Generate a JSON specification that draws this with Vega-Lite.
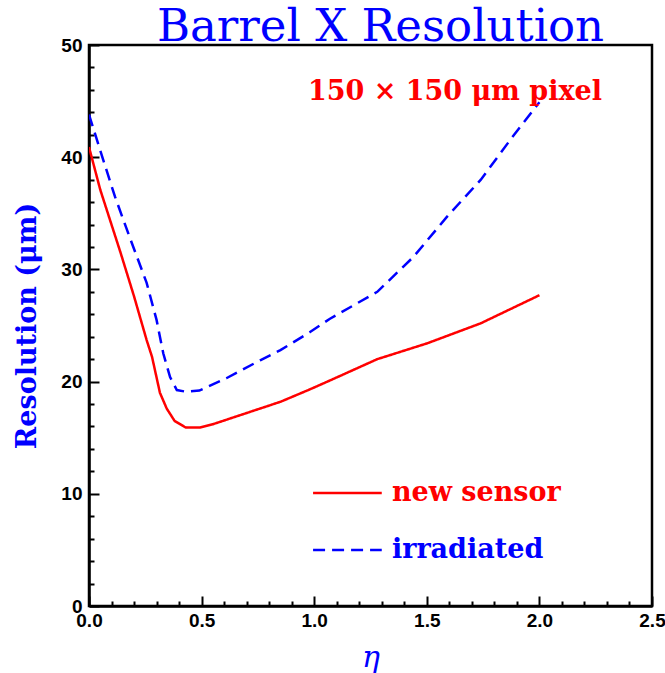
{
  "$schema": "https://vega.github.io/schema/vega-lite/v6.json",
  "width": 563,
  "height": 561,
  "autosize": "none",
  "padding": {"left": 89, "top": 45, "right": 13, "bottom": 67},
  "background": "white",
  "config": {
    "view": {"stroke": "black", "strokeWidth": 2.5},
    "axis": {
      "grid": false,
      "domainColor": "black",
      "domainWidth": 2.5,
      "tickColor": "black",
      "tickWidth": 2,
      "labelFont": "Liberation Sans",
      "labelFontWeight": "bold",
      "labelFontSize": 19,
      "labelColor": "black",
      "labelOverlap": false,
      "labelFlush": false
    }
  },
  "title": {
    "text": "Barrel X Resolution",
    "font": "DejaVu Serif",
    "fontSize": 45,
    "fontWeight": "normal",
    "color": "#0000ff",
    "anchor": "middle",
    "dx": 10,
    "offset": -14
  },
  "encoding": {
    "x": {
      "field": "eta", "type": "quantitative",
      "scale": {"domain": [0, 2.5], "nice": false, "zero": false},
      "axis": {
        "values": [0, 0.1, 0.2, 0.3, 0.4, 0.5, 0.6, 0.7, 0.8, 0.9, 1.0, 1.1, 1.2, 1.3, 1.4, 1.5, 1.6, 1.7, 1.8, 1.9, 2.0, 2.1, 2.2, 2.3, 2.4, 2.5],
        "tickSize": {"condition": {"test": "abs(datum.value*2 - round(datum.value*2)) < 0.001", "value": -10}, "value": -5},
        "labelExpr": "abs(datum.value*2 - round(datum.value*2)) < 0.001 ? format(datum.value, '.1f') : ''",
        "labelOverlap": false,
        "labelFlush": false,
        "labelPadding": 15,
        "title": "η",
        "titleFont": "DejaVu Serif",
        "titleFontStyle": "italic",
        "titleFontWeight": "normal",
        "titleFontSize": 30,
        "titleColor": "#0000ff",
        "titlePadding": 7
      }
    },
    "y": {
      "field": "res", "type": "quantitative",
      "scale": {"domain": [0, 50], "nice": false},
      "axis": {
        "values": [0, 2, 4, 6, 8, 10, 12, 14, 16, 18, 20, 22, 24, 26, 28, 30, 32, 34, 36, 38, 40, 42, 44, 46, 48, 50],
        "tickSize": {"condition": {"test": "datum.value % 10 === 0", "value": -10}, "value": -5},
        "labelExpr": "datum.value % 10 === 0 ? format(datum.value, 'd') : ''",
        "labelOverlap": false,
        "labelFlush": false,
        "labelPadding": 17,
        "title": "Resolution (μm)",
        "titleFont": "DejaVu Serif",
        "titleFontWeight": "bold",
        "titleFontSize": 27,
        "titleColor": "#0000ff",
        "titlePadding": 19
      }
    }
  },
  "layer": [
    {
      "data": {"values": [
        {"eta": 0.0, "res": 40.9, "series": "new sensor"},
        {"eta": 0.05, "res": 37.1, "series": "new sensor"},
        {"eta": 0.14, "res": 31.5, "series": "new sensor"},
        {"eta": 0.2, "res": 27.6, "series": "new sensor"},
        {"eta": 0.256, "res": 23.7, "series": "new sensor"},
        {"eta": 0.28, "res": 22.2, "series": "new sensor"},
        {"eta": 0.315, "res": 19.0, "series": "new sensor"},
        {"eta": 0.345, "res": 17.6, "series": "new sensor"},
        {"eta": 0.38, "res": 16.5, "series": "new sensor"},
        {"eta": 0.43, "res": 15.9, "series": "new sensor"},
        {"eta": 0.49, "res": 15.9, "series": "new sensor"},
        {"eta": 0.55, "res": 16.2, "series": "new sensor"},
        {"eta": 0.7, "res": 17.2, "series": "new sensor"},
        {"eta": 0.85, "res": 18.2, "series": "new sensor"},
        {"eta": 0.98, "res": 19.3, "series": "new sensor"},
        {"eta": 1.07, "res": 20.1, "series": "new sensor"},
        {"eta": 1.28, "res": 22.0, "series": "new sensor"},
        {"eta": 1.5, "res": 23.4, "series": "new sensor"},
        {"eta": 1.74, "res": 25.2, "series": "new sensor"},
        {"eta": 2.0, "res": 27.7, "series": "new sensor"},
        {"eta": 0.0, "res": 43.8, "series": "irradiated"},
        {"eta": 0.05, "res": 40.6, "series": "irradiated"},
        {"eta": 0.115, "res": 36.5, "series": "irradiated"},
        {"eta": 0.18, "res": 32.9, "series": "irradiated"},
        {"eta": 0.256, "res": 28.8, "series": "irradiated"},
        {"eta": 0.3, "res": 25.5, "series": "irradiated"},
        {"eta": 0.33, "res": 22.5, "series": "irradiated"},
        {"eta": 0.36, "res": 20.4, "series": "irradiated"},
        {"eta": 0.39, "res": 19.25, "series": "irradiated"},
        {"eta": 0.43, "res": 19.1, "series": "irradiated"},
        {"eta": 0.49, "res": 19.2, "series": "irradiated"},
        {"eta": 0.61, "res": 20.3, "series": "irradiated"},
        {"eta": 0.76, "res": 21.9, "series": "irradiated"},
        {"eta": 0.85, "res": 22.8, "series": "irradiated"},
        {"eta": 0.98, "res": 24.4, "series": "irradiated"},
        {"eta": 1.07, "res": 25.6, "series": "irradiated"},
        {"eta": 1.28, "res": 28.0, "series": "irradiated"},
        {"eta": 1.44, "res": 31.1, "series": "irradiated"},
        {"eta": 1.59, "res": 34.7, "series": "irradiated"},
        {"eta": 1.74, "res": 38.0, "series": "irradiated"},
        {"eta": 1.88, "res": 41.8, "series": "irradiated"},
        {"eta": 2.0, "res": 44.9, "series": "irradiated"}
      ]},
      "mark": {"type": "line", "strokeWidth": 2.5, "clip": true},
      "encoding": {
        "color": {
          "field": "series", "type": "nominal",
          "scale": {"domain": ["new sensor", "irradiated"], "range": ["#ff0000", "#0000ff"]},
          "legend": null
        },
        "strokeDash": {
          "field": "series", "type": "nominal",
          "scale": {"domain": ["new sensor", "irradiated"], "range": [[1, 0], [12, 7]]},
          "legend": null
        }
      }
    },
    {
      "data": {"values": [
        {"eta": 0.995, "res": 10.07, "series": "new sensor"},
        {"eta": 1.3, "res": 10.07, "series": "new sensor"},
        {"eta": 0.995, "res": 5.0, "series": "irradiated"},
        {"eta": 1.3, "res": 5.0, "series": "irradiated"}
      ]},
      "mark": {"type": "line", "strokeWidth": 2.5},
      "encoding": {
        "color": {"field": "series", "type": "nominal", "legend": null},
        "strokeDash": {"field": "series", "type": "nominal", "legend": null}
      }
    },
    {
      "data": {"values": [
        {"eta": 1.345, "res": 10.07, "label": "new sensor", "series": "new sensor"},
        {"eta": 1.345, "res": 5.0, "label": "irradiated", "series": "irradiated"}
      ]},
      "mark": {"type": "text", "align": "left", "baseline": "middle", "font": "DejaVu Serif", "fontWeight": "bold", "fontSize": 27},
      "encoding": {
        "text": {"field": "label"},
        "color": {"field": "series", "type": "nominal", "legend": null}
      }
    },
    {
      "data": {"values": [
        {"eta": 1.625, "res": 45.8, "label": "150 × 150 μm pixel"}
      ]},
      "mark": {"type": "text", "align": "center", "baseline": "middle", "font": "DejaVu Serif", "fontWeight": "bold", "fontSize": 27, "color": "#ff0000"},
      "encoding": {
        "text": {"field": "label"}
      }
    }
  ]
}
